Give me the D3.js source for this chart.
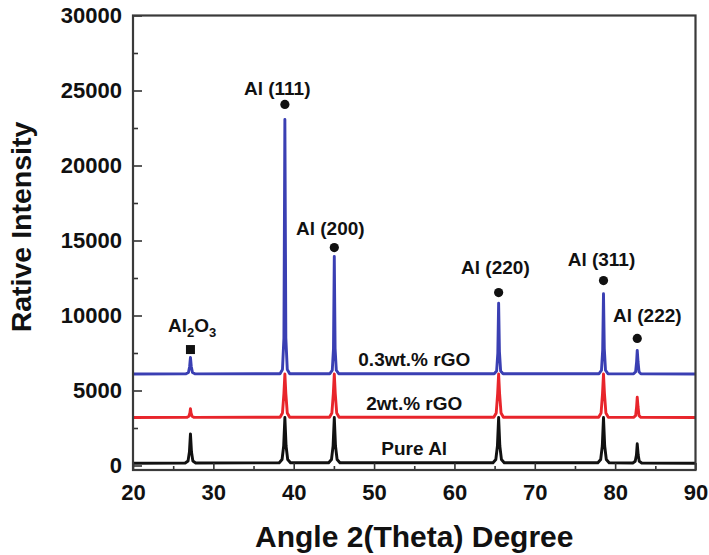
<!DOCTYPE html>
<html>
<head>
<meta charset="utf-8">
<script src="https://cdn.jsdelivr.net/npm/d3@7"></script>
<style>
	body { margin: 0; background: #fff; }
	text { font-family: 'Liberation Sans', Arial, sans-serif; font-weight: bold; fill: #111; }
</style>
</head>
<body>
<svg id="chart"></svg>
<script>
// series names, bottom to top
const seriesNames = ['Pure Al', '2wt.% rGO', '0.3wt.% rGO']
const seriesColors = ['#111111', '#e8252b', '#3a3fb3']
const seriesBaselines = [150, 3200, 6100]

// [angle, intensity]
const pureAl = [
	[20, 150],
	[26.5, 170], [26.85, 300], [27.02, 900], [27.15, 2110], [27.28, 900], [27.45, 300], [27.8, 170],
	[38.2, 180], [38.55, 400], [38.75, 1300], [38.9, 3200], [39.05, 1300], [39.25, 400], [39.6, 180],
	[44.35, 180], [44.7, 400], [44.9, 1300], [45.05, 3200], [45.2, 1300], [45.4, 400], [45.75, 180],
	[64.8, 180], [65.15, 400], [65.35, 1300], [65.5, 3200], [65.65, 1300], [65.85, 400], [66.2, 180],
	[77.85, 180], [78.2, 400], [78.4, 1300], [78.55, 3200], [78.7, 1300], [78.9, 400], [79.25, 180],
	[82.2, 170], [82.5, 280], [82.65, 700], [82.75, 1450], [82.87, 700], [83.0, 280], [83.3, 170],
	[90, 150]
]
const rgo2 = [
	[20, 3200],
	[26.7, 3210], [26.95, 3280], [27.08, 3500], [27.15, 3780], [27.22, 3500], [27.35, 3280], [27.6, 3210],
	[38.3, 3220], [38.6, 3500], [38.78, 4800], [38.9, 6100], [39.02, 4800], [39.2, 3500], [39.5, 3220],
	[44.45, 3220], [44.75, 3500], [44.93, 4800], [45.05, 6100], [45.17, 4800], [45.35, 3500], [45.65, 3220],
	[64.9, 3220], [65.2, 3500], [65.38, 4800], [65.5, 6100], [65.62, 4800], [65.8, 3500], [66.1, 3220],
	[77.95, 3220], [78.25, 3500], [78.43, 4800], [78.55, 6100], [78.67, 4800], [78.85, 3500], [79.15, 3220],
	[82.3, 3210], [82.55, 3320], [82.67, 3900], [82.75, 4550], [82.85, 3900], [82.97, 3320], [83.2, 3210],
	[90, 3200]
]
const rgo03 = [
	[20, 6100],
	[26.6, 6110], [26.9, 6200], [27.05, 6600], [27.15, 7200], [27.25, 6600], [27.4, 6200], [27.7, 6110],
	[38.3, 6120], [38.6, 6400], [38.78, 8500], [38.9, 23070], [39.02, 8500], [39.2, 6400], [39.5, 6120],
	[44.5, 6120], [44.8, 6350], [44.95, 7800], [45.05, 13930], [45.15, 7800], [45.3, 6350], [45.6, 6120],
	[64.95, 6120], [65.25, 6300], [65.4, 7500], [65.5, 10820], [65.6, 7600], [65.75, 6300], [66.05, 6120],
	[78.0, 6120], [78.3, 6350], [78.45, 7700], [78.55, 11450], [78.65, 7800], [78.8, 6350], [79.1, 6120],
	[82.3, 6110], [82.55, 6250], [82.67, 6900], [82.75, 7670], [82.85, 6900], [82.97, 6250], [83.2, 6110],
	[90, 6100]
]
const seriesData = [pureAl, rgo2, rgo03]

// peak markers and their labels
const peakNames = ['Al2O3', 'Al (111)', 'Al (200)', 'Al (220)', 'Al (311)', 'Al (222)']
const peakAngles = [27.15, 38.9, 45.05, 65.5, 78.55, 82.75]
const markerValues = [7730, 24070, 14530, 11530, 12330, 8470]
const labelAngles = [27.35, 37.95, 44.55, 65.1, 78.3, 84.0]
const labelValues = [8870, 24730, 15400, 12800, 13330, 9600]

const xMajor = [20, 30, 40, 50, 60, 70, 80, 90]
const xMinor = [25, 35, 45, 55, 65, 75, 85]
const yMajor = [0, 5000, 10000, 15000, 20000, 25000, 30000]
const yMinor = [2500, 7500, 12500, 17500, 22500, 27500]

const W = 709, H = 555
const plot = {left: 133, right: 695.5, top: 15.5, bottom: 470}

const svg = d3.select('#chart')
	.attr('width', W)
	.attr('height', H)

const x = d3.scaleLinear()
	.domain([20, 90])
	.range([plot.left, plot.right])
const y = d3.scaleLinear()
	.domain([-300, 30000])
	.range([plot.bottom, plot.top])

// curves
const line = d3.line()
	.x(d => x(d[0]))
	.y(d => y(d[1]))

svg.append('g').selectAll('path')
	.data(seriesData)
	.join('path')
	.attr('d', line)
	.attr('fill', 'none')
	.attr('stroke', (d, i) => seriesColors[i])
	.attr('stroke-width', 2.9)
	.attr('stroke-linejoin', 'round')

// axes, ticks point inward
svg.append('g')
	.attr('transform', `translate(0,${plot.bottom})`)
	.call(d3.axisBottom(x).tickValues(xMajor).tickSize(-7).tickPadding(14).tickFormat(d3.format('d')))
svg.append('g')
	.attr('transform', `translate(0,${plot.bottom})`)
	.call(d3.axisBottom(x).tickValues(xMinor).tickSize(-4).tickFormat(''))

svg.append('g')
	.attr('transform', `translate(${plot.left},0)`)
	.call(d3.axisLeft(y).tickValues(yMajor).tickSize(-9).tickPadding(11).tickFormat(d3.format('d')))
svg.append('g')
	.attr('transform', `translate(${plot.left},0)`)
	.call(d3.axisLeft(y).tickValues(yMinor).tickSize(-5).tickFormat(''))

svg.selectAll('.domain').remove()
svg.selectAll('.tick line').attr('stroke', '#333').attr('stroke-width', 1.6)
svg.selectAll('.tick text')
	.attr('font-size', 22)
	.attr('font-family', "'Liberation Sans', Arial, sans-serif")
	.attr('font-weight', 'bold')
	.attr('fill', '#111')

// frame
svg.append('rect')
	.attr('x', plot.left)
	.attr('y', plot.top)
	.attr('width', plot.right - plot.left)
	.attr('height', plot.bottom - plot.top)
	.attr('fill', 'none')
	.attr('stroke', '#3a3a3a')
	.attr('stroke-width', 2.2)

// series labels, centred, just above each baseline
svg.append('g').selectAll('text')
	.data(seriesNames)
	.join('text')
	.attr('x', (plot.left + plot.right) / 2)
	.attr('y', (d, i) => y(seriesBaselines[i]) - 8)
	.attr('text-anchor', 'middle')
	.attr('font-size', 19)
	.text(d => d)

// markers: square for Al2O3, dots for Al
const peaks = peakNames.map((name, i) => ({
	name, angle: peakAngles[i], marker: markerValues[i],
	labelAngle: labelAngles[i], labelValue: labelValues[i]
}))

svg.append('g').selectAll('circle')
	.data(peaks.filter(d => d.name !== 'Al2O3'))
	.join('circle')
	.attr('cx', d => x(d.angle))
	.attr('cy', d => y(d.marker))
	.attr('r', 4.6)
	.attr('fill', '#111')

svg.append('g').selectAll('rect')
	.data(peaks.filter(d => d.name === 'Al2O3'))
	.join('rect')
	.attr('x', d => x(d.angle) - 4.5)
	.attr('y', d => y(d.marker) - 4.5)
	.attr('width', 9)
	.attr('height', 9)
	.attr('fill', '#111')

const peakLabels = svg.append('g').selectAll('text')
	.data(peaks)
	.join('text')
	.attr('x', d => x(d.labelAngle))
	.attr('y', d => y(d.labelValue))
	.attr('text-anchor', 'middle')
	.attr('font-size', 19)

peakLabels.filter(d => d.name !== 'Al2O3').text(d => d.name)
peakLabels.filter(d => d.name === 'Al2O3').each(function () {
	const t = d3.select(this)
	t.append('tspan').text('Al')
	t.append('tspan').attr('font-size', 13).attr('dy', 5).text('2')
	t.append('tspan').attr('dy', -5).text('O')
	t.append('tspan').attr('font-size', 13).attr('dy', 5).text('3')
})

// axis titles
svg.append('text')
	.attr('x', (plot.left + plot.right) / 2)
	.attr('y', 547)
	.attr('text-anchor', 'middle')
	.attr('font-size', 30)
	.text('Angle 2(Theta) Degree')

svg.append('text')
	.attr('transform', 'translate(31,227) rotate(-90)')
	.attr('text-anchor', 'middle')
	.attr('font-size', 28.5)
	.text('Rative Intensity')
</script>
</body>
</html>
